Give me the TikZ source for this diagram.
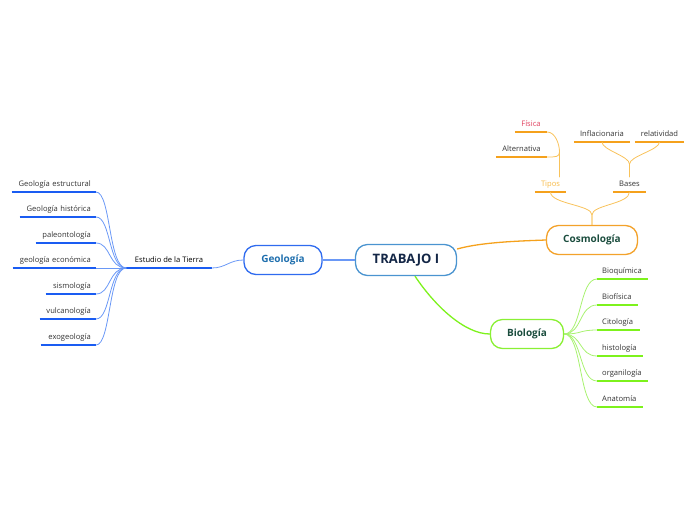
\documentclass[tikz,border=0pt]{standalone}
\usepackage{fontspec}
\setmainfont{Open Sans}
\usetikzlibrary{calc}
\definecolor{trabline}{HTML}{4A94D0}
\definecolor{trabtext}{HTML}{132646}
\definecolor{geobox}{HTML}{2F6BEF}
\definecolor{geotext}{HTML}{1F6FAE}
\definecolor{geoline}{HTML}{1A5CF2}
\definecolor{geotwig}{HTML}{6A98F6}
\definecolor{cosbox}{HTML}{F3A22B}
\definecolor{cosline}{HTML}{F5A11C}
\definecolor{costwig}{HTML}{F8C25A}
\definecolor{biobox}{HTML}{8AF034}
\definecolor{bioline}{HTML}{7DF21C}
\definecolor{biotwig}{HTML}{A8F270}
\definecolor{darkgreen}{HTML}{1B4D3E}
\definecolor{leaftext}{HTML}{333333}
\definecolor{fisred}{HTML}{E0405E}
\definecolor{tiposorange}{HTML}{F7B944}
\begin{document}
\begin{tikzpicture}[x=1pt,y=-1pt,
  topic/.style={draw,line width=1.3pt,rounded corners=12pt,fill=white,minimum height=29pt,font=\fontsize{10}{12}\selectfont\bfseries},
  leaf/.style={font=\fontsize{7.6}{9}\selectfont,text=leaftext,inner xsep=5pt,inner ysep=3.5pt,text height=5.5pt,text depth=2pt,anchor=south},
  gleaf/.style={leaf,anchor=south east,align=right},
  bleaf/.style={leaf,anchor=south west,align=left},
  uline/.style={line width=2pt},
  twig/.style={line width=0.8pt}]
%\draw[help lines, color=gray!30, dashed] (0,0) grid[step=50] (696,520);
\useasboundingbox (0,0) rectangle (696,520);
\node[topic,draw=trabline,text=trabtext,minimum width=101pt,minimum height=31pt,font=\fontsize{13}{15}\selectfont\bfseries] (trab) at (406,260) {TRABAJO I};
\node[topic,draw=geobox,text=geotext,minimum width=78pt] (geo) at (283,260) {Geología};
\node[topic,draw=cosbox,text=darkgreen,minimum width=91pt] (cos) at (592,240) {Cosmología};
\node[topic,draw=biobox,text=darkgreen,minimum width=73pt] (bio) at (527,334) {Biología};
\draw[geotwig,line width=1.3pt] (trab.west) -- (geo.east);
\draw[cosline,line width=1.3pt] ($(trab.east)+(0,-11)$) .. controls +(25,-7) and +(-26,1) .. (cos.west);
\draw[bioline,line width=1.3pt] ($(trab.south)+(9,0)$) .. controls +(20,30) and +(-25,0) .. (bio.west);
% Geologia
\node[leaf,text=black,minimum width=85pt] (est) at (169,268) {Estudio de la Tierra};
\draw[uline,geoline] (est.south west) -- (est.south east);
\draw[twig,geotwig] (geo.west) .. controls +(-14,0) and +(14,0) .. (est.south east);
\node[gleaf,text width=74pt] (gest) at (96,192) {Geología estructural};
\node[gleaf,text width=66pt] (ghis) at (96,217) {Geología histórica};
\node[gleaf,text width=50pt] (gpal) at (96,243) {paleontología};
\node[gleaf,text width=73pt] (geco) at (96,268) {geología económica};
\node[gleaf,text width=40pt] (gsis) at (96,294) {sismología};
\node[gleaf,text width=46pt] (gvul) at (96,319) {vulcanología};
\node[gleaf,text width=45pt] (gexo) at (96,345) {exogeología};
\draw[uline,geoline] (gest.south west) -- (gest.south east);
\draw[uline,geoline] (ghis.south west) -- (ghis.south east);
\draw[uline,geoline] (gpal.south west) -- (gpal.south east);
\draw[uline,geoline] (geco.south west) -- (geco.south east);
\draw[uline,geoline] (gsis.south west) -- (gsis.south east);
\draw[uline,geoline] (gvul.south west) -- (gvul.south east);
\draw[uline,geoline] (gexo.south west) -- (gexo.south east);
\draw[twig,geotwig] (est.south west) .. controls +(-18,0) and +(15,0) .. (gest.south east);
\draw[twig,geotwig] (est.south west) .. controls +(-18,0) and +(15,0) .. (ghis.south east);
\draw[twig,geotwig] (est.south west) .. controls +(-18,0) and +(15,0) .. (gpal.south east);
\draw[twig,geotwig] (est.south west) -- (geco.south east);
\draw[twig,geotwig] (est.south west) .. controls +(-18,0) and +(15,0) .. (gsis.south east);
\draw[twig,geotwig] (est.south west) .. controls +(-18,0) and +(15,0) .. (gvul.south east);
\draw[twig,geotwig] (est.south west) .. controls +(-18,0) and +(15,0) .. (gexo.south east);
% Cosmologia
\node[leaf,text=tiposorange,minimum width=31pt] (tipos) at (550.5,192) {Tipos};
\node[leaf,minimum width=33pt] (bases) at (629.5,192) {Bases};
\node[leaf,text=fisred,minimum width=32pt] (fis) at (531,132) {Física};
\node[leaf,minimum width=51pt] (alt) at (521.5,157) {Alternativa};
\node[leaf,minimum width=56pt] (infl) at (602,142) {Inflacionaria};
\node[leaf,minimum width=49pt] (rel) at (659.5,142) {relatividad};
\draw[uline,cosline] (tipos.south west) -- (tipos.south east);
\draw[uline,cosline] (bases.south west) -- (bases.south east);
\draw[uline,cosline] (fis.south west) -- (fis.south east);
\draw[uline,cosline] (alt.south west) -- (alt.south east);
\draw[uline,cosline] (infl.south west) -- (infl.south east);
\draw[uline,cosline] (rel.south west) -- (rel.south east);
\draw[twig,costwig] (cos.north) -- ++(0,-10) .. controls +(0,-10) and +(0,12) .. (tipos.south);
\draw[twig,costwig] (cos.north) -- ++(0,-10) .. controls +(0,-10) and +(0,12) .. (bases.south);
\draw[twig,costwig] ($(tipos.north)+(9,0)$) -- ++(0,-25) .. controls +(0,-8) and +(8,0) .. (fis.south east);
\draw[twig,costwig] ($(tipos.north)+(9,0)$) -- ++(0,-25) .. controls +(0,5) and +(8,0) .. (alt.south east);
\draw[twig,costwig] (bases.north) -- ++(0,-13) .. controls +(0,-8) and +(0,8) .. (infl.south);
\draw[twig,costwig] (bases.north) -- ++(0,-13) .. controls +(0,-8) and +(0,8) .. (rel.south);
% Biologia
\node[bleaf,text width=41pt] (bioq) at (597,279) {Bioquímica};
\node[bleaf,text width=31pt] (biof) at (597,305) {Biofísica};
\node[bleaf,text width=33pt] (cito) at (597,330) {Citología};
\node[bleaf,text width=36pt] (hist) at (597,356) {histología};
\node[bleaf,text width=41pt] (orga) at (597,381) {organilogía};
\node[bleaf,text width=36pt] (anat) at (597,407) {Anatomía};
\draw[uline,bioline] (bioq.south west) -- (bioq.south east);
\draw[uline,bioline] (biof.south west) -- (biof.south east);
\draw[uline,bioline] (cito.south west) -- (cito.south east);
\draw[uline,bioline] (hist.south west) -- (hist.south east);
\draw[uline,bioline] (orga.south west) -- (orga.south east);
\draw[uline,bioline] (anat.south west) -- (anat.south east);
\draw[twig,biotwig] (bio.east) .. controls +(18,0) and +(-18,0) .. (bioq.south west);
\draw[twig,biotwig] (bio.east) .. controls +(18,0) and +(-18,0) .. (biof.south west);
\draw[twig,biotwig] (bio.east) .. controls +(18,0) and +(-18,0) .. (cito.south west);
\draw[twig,biotwig] (bio.east) .. controls +(18,0) and +(-18,0) .. (hist.south west);
\draw[twig,biotwig] (bio.east) .. controls +(18,0) and +(-18,0) .. (orga.south west);
\draw[twig,biotwig] (bio.east) .. controls +(18,0) and +(-18,0) .. (anat.south west);
\end{tikzpicture}
\end{document}
